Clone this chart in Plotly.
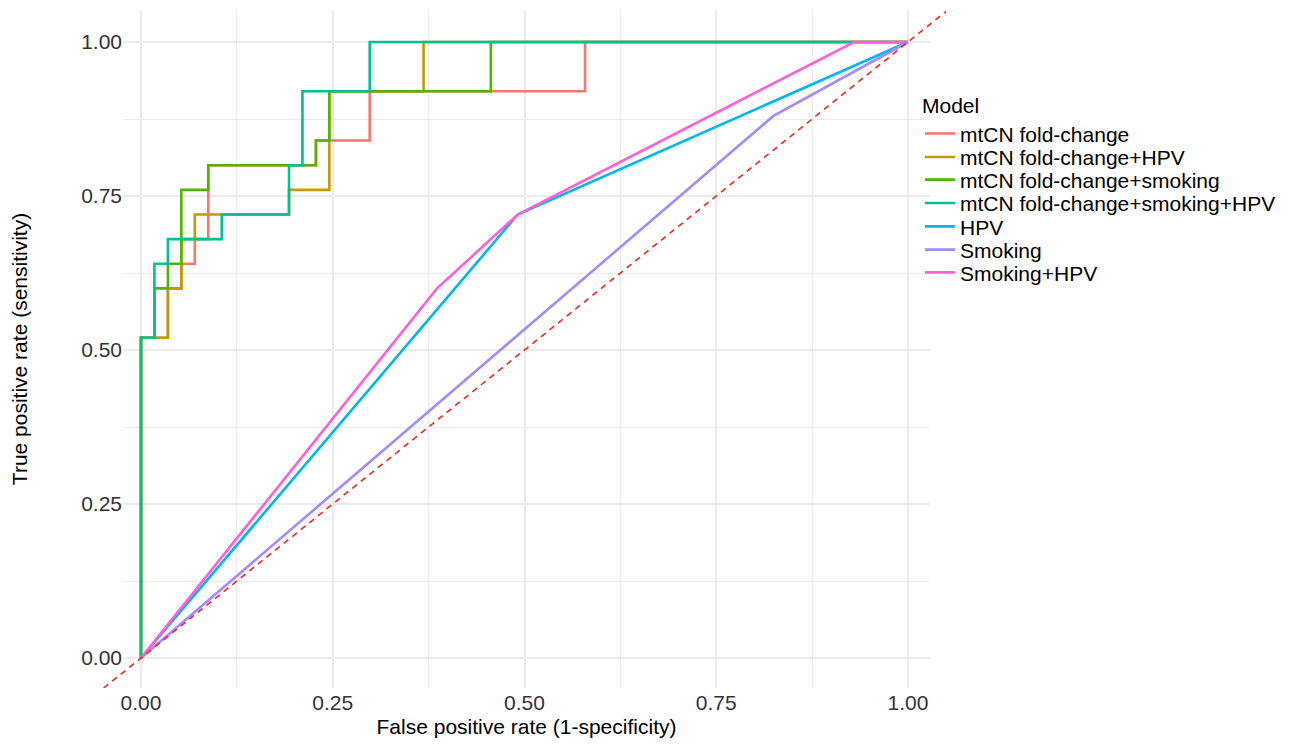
import plotly.graph_objects as go

# ---------------- data ----------------
models = [
    "mtCN fold-change",
    "mtCN fold-change+HPV",
    "mtCN fold-change+smoking",
    "mtCN fold-change+smoking+HPV",
    "HPV",
    "Smoking",
    "Smoking+HPV",
]
colors = ["#F8766D", "#C49A00", "#53B400", "#00C094", "#00B6EB", "#A58AFF", "#FB61D7"]

fpr_mtcn = [0, 0, 0.0351, 0.0351, 0.0526, 0.0526, 0.0702, 0.0702, 0.0877, 0.0877,
            0.2281, 0.2281, 0.2982, 0.2982, 0.5789, 0.5789, 1]
tpr_mtcn = [0, 0.52, 0.52, 0.60, 0.60, 0.64, 0.64, 0.68, 0.68, 0.80,
            0.80, 0.84, 0.84, 0.92, 0.92, 1, 1]

fpr_mtcn_hpv = [0, 0, 0.0351, 0.0351, 0.0526, 0.0526, 0.0702, 0.0702, 0.1930, 0.1930,
                0.2456, 0.2456, 0.3684, 0.3684, 1]
tpr_mtcn_hpv = [0, 0.52, 0.52, 0.60, 0.60, 0.68, 0.68, 0.72, 0.72, 0.76,
                0.76, 0.92, 0.92, 1, 1]

fpr_mtcn_smk = [0, 0, 0.0175, 0.0175, 0.0351, 0.0351, 0.0526, 0.0526, 0.0877, 0.0877,
                0.2281, 0.2281, 0.2456, 0.2456, 0.4561, 0.4561, 1]
tpr_mtcn_smk = [0, 0.52, 0.52, 0.60, 0.60, 0.64, 0.64, 0.76, 0.76, 0.80,
                0.80, 0.84, 0.84, 0.92, 0.92, 1, 1]

fpr_mtcn_smk_hpv = [0, 0, 0.0175, 0.0175, 0.0351, 0.0351, 0.1053, 0.1053, 0.1930, 0.1930,
                    0.2105, 0.2105, 0.2982, 0.2982, 1]
tpr_mtcn_smk_hpv = [0, 0.52, 0.52, 0.64, 0.64, 0.68, 0.68, 0.72, 0.72, 0.80,
                    0.80, 0.92, 0.92, 1, 1]

fpr_hpv = [0, 0.4912, 1]
tpr_hpv = [0, 0.72, 1]

fpr_smk = [0, 0.8246, 1]
tpr_smk = [0, 0.88, 1]

fpr_smk_hpv = [0, 0.3860, 0.4912, 0.9298, 1]
tpr_smk_hpv = [0, 0.60, 0.72, 1, 1]

ref_x = [-0.06, 1.06]
ref_y = [-0.06, 1.06]

tick_vals = [0, 0.25, 0.5, 0.75, 1]
tick_text = ["0.00", "0.25", "0.50", "0.75", "1.00"]

series_x = [fpr_mtcn, fpr_mtcn_hpv, fpr_mtcn_smk, fpr_mtcn_smk_hpv, fpr_hpv, fpr_smk, fpr_smk_hpv]
series_y = [tpr_mtcn, tpr_mtcn_hpv, tpr_mtcn_smk, tpr_mtcn_smk_hpv, tpr_hpv, tpr_smk, tpr_smk_hpv]

# ---------------- layout geometry ----------------
# pixel positions are given in screen coordinates; the page body adds an 8px margin
BODY = 8
W, H = 1296 - 2 * BODY, 746 - 2 * BODY


def sx(p):
    return p - BODY


OUT_L, OUT_R, OUT_T, OUT_B = sx(103), sx(946), sx(10), sx(688)   # unclipped area
GRID_L, GRID_R = sx(123), sx(930)                                # visible grid area
PX0, PX1 = sx(141), sx(908)                                      # x = 0 and x = 1
PY0, PY1 = sx(658), sx(42)                                       # y = 0 and y = 1
ux = PX1 - PX0
uy = PY0 - PY1
pw = OUT_R - OUT_L
ph = OUT_B - OUT_T

x_main_range = [(GRID_L - PX0) / ux, (GRID_R - PX0) / ux]
x_full_range = [(OUT_L - PX0) / ux, (OUT_R - PX0) / ux]
y_range = [(PY0 - OUT_B) / uy, (PY0 - OUT_T) / uy]

FONT = "Liberation Sans, Arial, Helvetica, sans-serif"
FS = 21
LEG_FS = 21
GRID = "#EBEBEB"

fig = go.Figure()

for i, (name, col, xs, ys) in enumerate(zip(models, colors, series_x, series_y)):
    fig.add_trace(go.Scatter(
        x=xs, y=ys, mode="lines", name=name,
        line=dict(color=col, width=2.6),
        legend="legend" if i == 0 else f"legend{i + 1}",
        xaxis="x", yaxis="y",
    ))

fig.add_trace(go.Scatter(
    x=ref_x, y=ref_y, mode="lines", showlegend=False,
    line=dict(color="#F0261C", width=1.6, dash="6px,5px"),
    xaxis="x2", yaxis="y2",
))

# legend item centres (screen pixels)
item_cy = [134, 157.3, 180, 203.3, 226.7, 250, 272.7]
legend_left = sx(920)

layout_legends = {}
for i, cy in enumerate(item_cy):
    key = "legend" if i == 0 else f"legend{i + 1}"
    c = sx(cy)
    d = dict(
        x=(legend_left - OUT_L) / pw, xanchor="left",
        y=(OUT_B - c) / ph, yanchor="middle",
        bgcolor="rgba(0,0,0,0)", borderwidth=0,
        font=dict(family=FONT, size=LEG_FS, color="#000000"),
        itemwidth=30, itemclick=False, itemdoubleclick=False,
    )
    if i == 0:
        d["title"] = dict(text="Model", font=dict(family=FONT, size=LEG_FS, color="#000000"))
        d["yanchor"] = "bottom"
        d["y"] = (OUT_B - c - 20) / ph
    layout_legends[key] = d

axis_common = dict(
    showline=False, zeroline=False, ticks="",
    tickvals=tick_vals, ticktext=tick_text,
    tickfont=dict(family=FONT, size=FS, color="#333333"),
    showgrid=True, gridcolor=GRID, gridwidth=1.6,
    minor=dict(dtick=0.125, tick0=0, showgrid=True, gridcolor=GRID, gridwidth=0.9, ticks=""),
)

fig.update_layout(
    width=W, height=H,
    margin=dict(l=OUT_L, r=W - OUT_R, t=OUT_T, b=H - OUT_B, pad=0, autoexpand=False),
    paper_bgcolor="white", plot_bgcolor="rgba(255,255,255,0)",
    xaxis=dict(
        domain=[(GRID_L - OUT_L) / pw, (GRID_R - OUT_L) / pw],
        range=x_main_range, anchor="y",
        title=dict(text="False positive rate (1-specificity)",
                   font=dict(family=FONT, size=FS, color="#000000"), standoff=17),
        **axis_common,
    ),
    yaxis=dict(
        domain=[0, 1], range=y_range, anchor="x",
        title=dict(text="True positive rate (sensitivity)",
                   font=dict(family=FONT, size=FS, color="#000000"), standoff=50),
        **axis_common,
    ),
    xaxis2=dict(domain=[0, 1], range=x_full_range, anchor="y2", visible=False,
                showgrid=False, zeroline=False),
    yaxis2=dict(domain=[0, 1], range=y_range, anchor="x2", visible=False,
                showgrid=False, zeroline=False),
    **layout_legends,
)

fig.write_html("out.html")
